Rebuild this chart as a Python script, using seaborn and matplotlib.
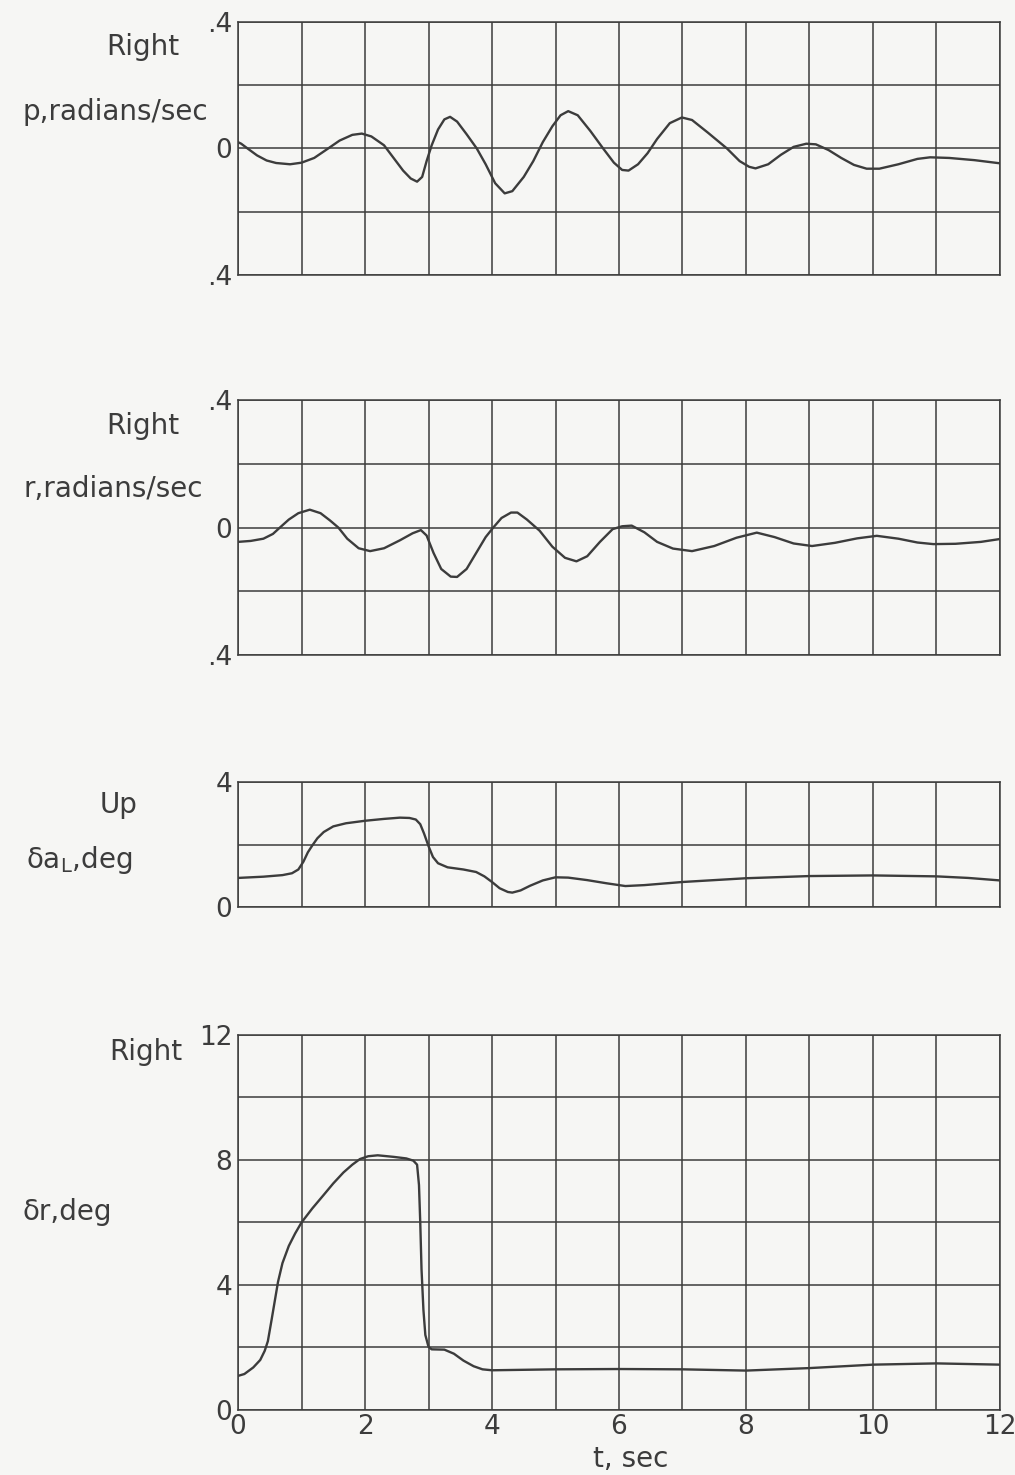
import numpy as np
import pandas as pd
import seaborn as sns
from matplotlib import pyplot as plt

# readings from the reference traces
t_p = [0.0, 0.05, 0.15, 0.3, 0.45, 0.6, 0.82, 1.0, 1.2, 1.42, 1.6, 1.8, 1.95, 2.1, 2.3,
       2.45, 2.6, 2.72, 2.82, 2.9, 2.97, 3.05, 3.15, 3.25, 3.34, 3.45, 3.6, 3.76, 3.9, 4.05,
       4.2, 4.32, 4.5, 4.65, 4.8, 4.95, 5.08, 5.2, 5.35, 5.55, 5.75, 5.92, 6.05, 6.15, 6.3,
       6.45, 6.6, 6.8, 6.99, 7.15, 7.4, 7.7, 7.9, 8.05, 8.15, 8.35, 8.55, 8.75, 8.95, 9.1,
       9.3, 9.5, 9.7, 9.9, 10.1, 10.4, 10.7, 10.9, 11.2, 11.6, 12.0]
p = [0.02, 0.015, 0.0, -0.022, -0.038, -0.046, -0.05, -0.045, -0.03, 0.0, 0.025, 0.043, 0.047, 0.038, 0.01,
     -0.03, -0.07, -0.095, -0.105, -0.09, -0.04, 0.01, 0.06, 0.092, 0.1, 0.085, 0.045, 0.0, -0.05, -0.11,
     -0.142, -0.135, -0.09, -0.04, 0.02, 0.07, 0.105, 0.118, 0.105, 0.055, 0.0, -0.045, -0.068, -0.07, -0.05,
     -0.015, 0.03, 0.08, 0.098, 0.09, 0.05, 0.0, -0.04, -0.058, -0.063, -0.05, -0.02, 0.005, 0.015, 0.013,
     -0.005, -0.03, -0.052, -0.064, -0.064, -0.05, -0.033, -0.028, -0.03, -0.037, -0.047]

t_r = [0.0, 0.2, 0.4, 0.55, 0.66, 0.8, 0.95, 1.13, 1.3, 1.45, 1.58, 1.72, 1.9, 2.08, 2.3,
       2.55, 2.75, 2.88, 2.97, 3.08, 3.2, 3.35, 3.45, 3.6, 3.75, 3.9, 4.02, 4.15, 4.3, 4.4,
       4.55, 4.75, 4.95, 5.15, 5.33, 5.5, 5.7, 5.9, 6.05, 6.2, 6.4, 6.6, 6.85, 7.15, 7.5,
       7.85, 8.17, 8.45, 8.75, 9.04, 9.4, 9.75, 10.06, 10.4, 10.7, 10.95, 11.3, 11.7, 12.0]
r = [-0.045, -0.042, -0.035, -0.02, 0.0, 0.025, 0.045, 0.056, 0.045, 0.022, 0.0, -0.035, -0.065, -0.074, -0.065,
     -0.04, -0.018, -0.008, -0.025, -0.08, -0.13, -0.154, -0.155, -0.13, -0.08, -0.03, 0.0, 0.03, 0.047, 0.047,
     0.025, -0.01, -0.06, -0.095, -0.106, -0.09, -0.045, -0.005, 0.004, 0.006, -0.015, -0.045, -0.066, -0.074, -0.058,
     -0.032, -0.016, -0.03, -0.05, -0.058, -0.048, -0.034, -0.026, -0.035, -0.047, -0.052, -0.051, -0.045, -0.036]

t_a = [0.0, 0.4, 0.7, 0.85, 0.95, 1.03, 1.1, 1.17, 1.25, 1.35, 1.5, 1.7, 2.0, 2.3, 2.55,
       2.7, 2.8, 2.87, 2.93, 3.0, 3.07, 3.15, 3.3, 3.55, 3.75, 3.88, 4.0, 4.12, 4.25, 4.32,
       4.45, 4.6, 4.8, 5.0, 5.2, 5.5, 5.8, 6.1, 6.4, 7.0, 8.0, 9.0, 10.0, 11.0, 11.5, 12.0]
da = [0.93, 0.97, 1.02, 1.08, 1.2, 1.45, 1.75, 1.97, 2.2, 2.4, 2.58, 2.68, 2.76, 2.82, 2.86,
      2.85, 2.8, 2.65, 2.35, 1.95, 1.6, 1.4, 1.27, 1.2, 1.12, 0.98, 0.8, 0.6, 0.48, 0.46,
      0.53, 0.68, 0.85, 0.95, 0.94, 0.86, 0.76, 0.67, 0.7, 0.8, 0.92, 0.99, 1.01, 0.98, 0.93, 0.85]

t_d = [0.0, 0.1, 0.24, 0.35, 0.42, 0.47, 0.53, 0.58, 0.63, 0.7, 0.8, 0.9, 1.0, 1.17, 1.34,
       1.5, 1.66, 1.8, 1.92, 2.05, 2.2, 2.45, 2.65, 2.76, 2.82, 2.85, 2.87, 2.89, 2.92, 2.95,
       3.0, 3.05, 3.25, 3.4, 3.55, 3.71, 3.85, 4.0, 5.0, 6.0, 7.0, 8.0, 9.0, 10.0, 11.0, 12.0]
dr = [1.09, 1.15, 1.36, 1.6, 1.89, 2.2, 2.9, 3.5, 4.1, 4.7, 5.25, 5.65, 6.0, 6.45, 6.86,
      7.25, 7.6, 7.85, 8.03, 8.12, 8.15, 8.1, 8.05, 7.98, 7.85, 7.2, 6.0, 4.5, 3.2, 2.4,
      2.02, 1.94, 1.93, 1.8, 1.58, 1.4, 1.3, 1.27, 1.3, 1.31, 1.3, 1.26, 1.34, 1.45, 1.49, 1.45]

x_ticks = [0, 2, 4, 6, 8, 10, 12]

ink = "#3c3c3c"
paper = "#f6f6f4"

sns.set_style("white")
plt.rcParams['font.family'] = ['DejaVu Sans']
plt.rcParams['mathtext.fontset'] = 'dejavusans'

fig = plt.figure(figsize=(10.15, 14.75), dpi=100)
fig.patch.set_facecolor(paper)

# [left, bottom, width, height] of the four panels
boxes = [
    [0.2345, 0.8136, 0.7507, 0.1715],
    [0.2345, 0.5559, 0.7507, 0.1729],
    [0.2345, 0.3851, 0.7507, 0.0847],
    [0.2345, 0.0441, 0.7507, 0.2542],
]

panels = [
    (t_p, p, (-0.4, 0.4), [-0.4, -0.2, 0, 0.2, 0.4], ['.4', '', '0', '', '.4']),
    (t_r, r, (-0.4, 0.4), [-0.4, -0.2, 0, 0.2, 0.4], ['.4', '', '0', '', '.4']),
    (t_a, da, (0, 4), [0, 2, 4], ['0', '', '4']),
    (t_d, dr, (0, 12), [0, 2, 4, 6, 8, 10, 12], ['0', '', '4', '', '8', '', '12']),
]

axes = []
for box, (tt, yy, lim, yt, ylab) in zip(boxes, panels):
    ax = fig.add_axes(box)
    ax.set_facecolor(paper)
    df = pd.DataFrame({"t": tt, "v": yy})
    sns.lineplot(data=df, x="t", y="v", ax=ax, color=ink, linewidth=1.7)
    ax.set_xlim(0, 12)
    ax.set_ylim(*lim)
    ax.set_xticks(np.arange(0, 13, 1))
    ax.set_yticks(yt)
    ax.set_yticklabels(ylab)
    ax.grid(True, color=ink, linewidth=1.1)
    ax.set_axisbelow(True)
    for s in ax.spines.values():
        s.set_color(ink)
        s.set_linewidth(1.1)
    ax.tick_params(length=0, pad=4, labelsize=19, colors=ink)
    ax.set_xlabel("")
    ax.set_ylabel("")
    ax.set_xticklabels([])
    axes.append(ax)

# only the bottom panel carries time labels
axes[3].set_xticklabels([str(v) if v in x_ticks else '' for v in range(13)])
axes[3].tick_params(axis='x', pad=3)

# left-hand captions
txt = dict(fontsize=20, color=ink, transform=fig.transFigure)
fig.text(143 / 1015, 1 - 47 / 1475, "Right", ha='center', va='center', **txt)
fig.text(208 / 1015, 1 - 112 / 1475, "p,radians/sec", ha='right', va='center', **txt)
fig.text(143 / 1015, 1 - 426 / 1475, "Right", ha='center', va='center', **txt)
fig.text(203 / 1015, 1 - 489 / 1475, "r,radians/sec", ha='right', va='center', **txt)
fig.text(119 / 1015, 1 - 805 / 1475, "Up", ha='center', va='center', **txt)
fig.text(133 / 1015, 1 - 860 / 1475, r"δa$_{\mathrm{L}}$,deg", ha='right', va='center', **txt)
fig.text(146 / 1015, 1 - 1052 / 1475, "Right", ha='center', va='center', **txt)
fig.text(22 / 1015, 1 - 1212 / 1475, "δr,deg", ha='left', va='center', **txt)
fig.text(631 / 1015, 1 - 1459 / 1475, "t, sec", ha='center', va='center', **txt)

fig.savefig("out.png", dpi=100, facecolor=paper)
